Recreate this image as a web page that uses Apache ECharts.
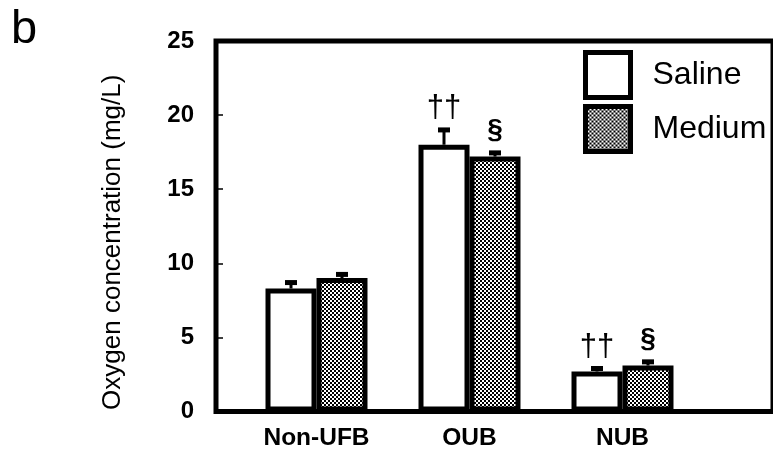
<!DOCTYPE html>
<html>
<head>
<meta charset="utf-8">
<script src="https://cdn.jsdelivr.net/npm/echarts@6/dist/echarts.min.js"></script>
<style>html,body{margin:0;padding:0;background:#fff;}#main{width:773px;height:455px;}</style>
</head>
<body>
<div id="main"></div>
<script>
const categories = ['Non-UFB', 'OUB', 'NUB'];
const salineValues = [8.3, 18.0, 2.7];
const salineErrors = [0.4, 1.0, 0.2];
const mediumValues = [9.0, 17.2, 3.1];
const mediumErrors = [0.25, 0.25, 0.25];
const salineMarks = ['', '††', '††'];
const mediumMarks = ['', '§', '§'];
const yMin = 0, yMax = 25, yStep = 5;

const FONT = 'Liberation Sans, Arial, Helvetica, sans-serif';

// checkerboard pattern for "Medium"
const pat = document.createElement('canvas');
pat.width = 4; pat.height = 4;
const pc = pat.getContext('2d');
pc.fillStyle = '#ffffff'; pc.fillRect(0, 0, 4, 4);
pc.fillStyle = '#000000';
pc.fillRect(0, 0, 2, 2); pc.fillRect(2, 2, 2, 2);
const checker = { image: pat, repeat: 'repeat' };

function errSeries(name, values, errors, marks, side) {
  return {
    type: 'custom',
    name: name + ' err',
    xAxisIndex: 1, yAxisIndex: 1,
    z: 5,
    encode: { x: 0, y: 1 },
    data: values.map((v, i) => [i, v, errors[i]]),
    renderItem: function (params, api) {
      const idx = api.value(0), v = api.value(1), e = api.value(2);
      const band = api.size([1, 0])[0];
      const top = api.coord([idx, v]);
      const cap = api.coord([idx, v + e]);
      const x = top[0] + side * band / 6;
      const mark = marks[params.dataIndex];
      const bold = mark === '§';
      return {
        type: 'group',
        children: [
          { type: 'line', shape: { x1: x, y1: top[1], x2: x, y2: cap[1] }, style: { stroke: '#000', lineWidth: 3 } },
          { type: 'line', shape: { x1: x - 6, y1: cap[1], x2: x + 6, y2: cap[1] }, style: { stroke: '#000', lineWidth: 5 } },
          { type: 'text', x: x, y: cap[1] - (bold ? 9 : 6),
            style: { text: mark, x: 0, y: 0, align: 'center', verticalAlign: 'bottom',
              fontSize: bold ? 28 : 31, fontWeight: bold ? 'bold' : 'normal', fontFamily: FONT, fill: '#000' } }
        ]
      };
    }
  };
}

const chart = echarts.init(document.getElementById('main'), null, { renderer: 'canvas' });
chart.setOption({
  animation: false,
  backgroundColor: '#fff',
  title: { text: 'b', left: 11, top: 7, padding: 0, textStyle: { fontSize: 47, fontWeight: 'normal', fontFamily: FONT, color: '#000' } },
  legend: {
    orient: 'vertical', left: 583, top: 50, padding: 0, icon: 'rect',
    itemWidth: 45, itemHeight: 45, itemGap: 4,
    data: ['Saline', 'Medium'],
    textStyle: { fontSize: 32, fontFamily: FONT, color: '#000', padding: [4, 0, 0, 17] },
    itemStyle: { borderColor: '#000', borderWidth: 5 }
  },
  grid: [
    { left: 216, top: 41, width: 620, bottom: 43.5, show: true, borderColor: '#000', borderWidth: 5, backgroundColor: 'transparent' },
    { left: 240, top: 41, width: 459, bottom: 43.5 }
  ],
  xAxis: [
    { gridIndex: 0, type: 'value', show: false },
    { gridIndex: 1, type: 'category', data: categories,
      axisLine: { show: false }, axisTick: { show: false }, splitLine: { show: false },
      axisLabel: { fontSize: 24.5, fontWeight: 'bold', fontFamily: FONT, color: '#000', margin: 14 } }
  ],
  yAxis: [
    { gridIndex: 0, type: 'value', min: yMin, max: yMax, interval: yStep,
      name: 'Oxygen concentration (mg/L)', nameLocation: 'middle', nameGap: 90,
      nameTextStyle: { fontSize: 26, fontFamily: FONT, color: '#000', padding: [0, 32, 0, 0] },
      axisLine: { show: false },
      axisTick: { show: true, inside: true, length: 7, lineStyle: { color: '#000', width: 1.5 } },
      splitLine: { show: false },
      axisLabel: { fontSize: 24, fontWeight: 'bold', fontFamily: FONT, color: '#000', margin: 22 } },
    { gridIndex: 1, type: 'value', min: yMin, max: yMax, interval: yStep, show: false, splitLine: { show: false } }
  ],
  series: [
    { type: 'bar', name: 'Saline', xAxisIndex: 1, yAxisIndex: 1, data: salineValues,
      barWidth: '33.33%', barGap: '0%',
      itemStyle: { color: '#fff', borderColor: '#000', borderWidth: 5 } },
    { type: 'bar', name: 'Medium', xAxisIndex: 1, yAxisIndex: 1, data: mediumValues,
      barWidth: '33.33%', barGap: '0%',
      itemStyle: { color: checker, borderColor: '#000', borderWidth: 5 } },
    errSeries('Saline', salineValues, salineErrors, salineMarks, -1),
    errSeries('Medium', mediumValues, mediumErrors, mediumMarks, 1)
  ]
});
</script>
</body>
</html>
